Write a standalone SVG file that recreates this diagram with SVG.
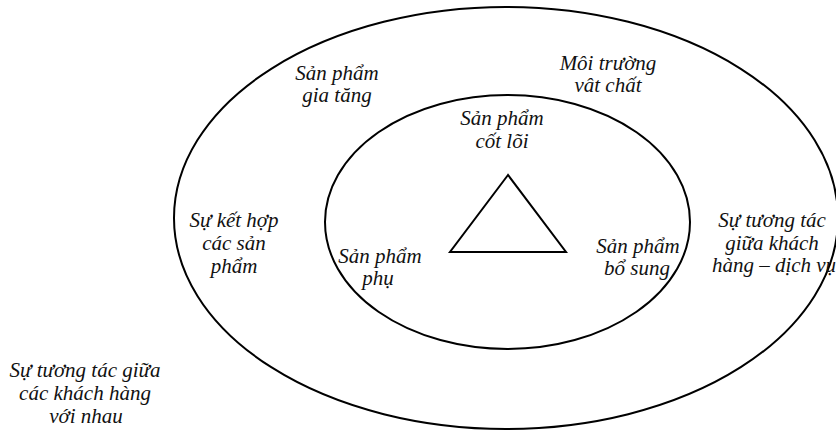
<svg xmlns="http://www.w3.org/2000/svg" width="836" height="431" viewBox="0 0 836 431">
<rect width="836" height="431" fill="#fff"/>
<g fill="none" stroke="#000" stroke-width="2">
<g id="outer"><ellipse cx="506" cy="218" rx="332" ry="211"/></g>
<g id="inner"><ellipse cx="507.5" cy="222" rx="182.5" ry="127"/></g>
<g id="core-triangle"><polygon points="508,175 450,252 566,252"/></g>
</g>
<g id="connectors"></g>
<g id="san-pham-gia-tang"><text font-family="Liberation Serif" font-style="italic" font-size="21" text-anchor="middle" fill="#111" x="337" y="80">Sản phẩm</text><text font-family="Liberation Serif" font-style="italic" font-size="21" text-anchor="middle" fill="#111" x="337" y="102">gia tăng</text></g>
<g id="moi-truong"><text font-family="Liberation Serif" font-style="italic" font-size="21" text-anchor="middle" fill="#111" x="608" y="70">Môi trường</text><text font-family="Liberation Serif" font-style="italic" font-size="21" text-anchor="middle" fill="#111" x="608" y="92">vât chất</text></g>
<g id="san-pham-cot-loi"><text font-family="Liberation Serif" font-style="italic" font-size="21" text-anchor="middle" fill="#111" x="502" y="125">Sản phẩm</text><text font-family="Liberation Serif" font-style="italic" font-size="21" text-anchor="middle" fill="#111" x="502" y="148">cốt lõi</text></g>
<g id="su-ket-hop"><text font-family="Liberation Serif" font-style="italic" font-size="21" text-anchor="middle" fill="#111" x="234" y="227">Sự kết hợp</text><text font-family="Liberation Serif" font-style="italic" font-size="21" text-anchor="middle" fill="#111" x="234" y="250">các sản</text><text font-family="Liberation Serif" font-style="italic" font-size="21" text-anchor="middle" fill="#111" x="234" y="273">phẩm</text></g>
<g id="san-pham-phu"><text font-family="Liberation Serif" font-style="italic" font-size="21" text-anchor="middle" fill="#111" x="380" y="263">Sản phẩm</text><text font-family="Liberation Serif" font-style="italic" font-size="21" text-anchor="middle" fill="#111" x="378" y="285">phụ</text></g>
<g id="san-pham-bo-sung"><text font-family="Liberation Serif" font-style="italic" font-size="21" text-anchor="middle" fill="#111" x="638" y="253">Sản phẩm</text><text font-family="Liberation Serif" font-style="italic" font-size="21" text-anchor="middle" fill="#111" x="637" y="275">bổ sung</text></g>
<g id="tuong-tac-kh-dv"><text font-family="Liberation Serif" font-style="italic" font-size="21" text-anchor="middle" fill="#111" x="772" y="227">Sự tương tác</text><text font-family="Liberation Serif" font-style="italic" font-size="21" text-anchor="middle" fill="#111" x="772" y="250">giữa khách</text><text font-family="Liberation Serif" font-style="italic" font-size="21" text-anchor="middle" fill="#111" x="774" y="272">hàng – dịch vụ</text></g>
<g id="tuong-tac-kh"><text font-family="Liberation Serif" font-style="italic" font-size="21" text-anchor="middle" fill="#111" x="85" y="377">Sự tương tác giữa</text><text font-family="Liberation Serif" font-style="italic" font-size="21" text-anchor="middle" fill="#111" x="85" y="400">các khách hàng</text><text font-family="Liberation Serif" font-style="italic" font-size="21" text-anchor="middle" fill="#111" x="86" y="423">với nhau</text></g>
</svg>
